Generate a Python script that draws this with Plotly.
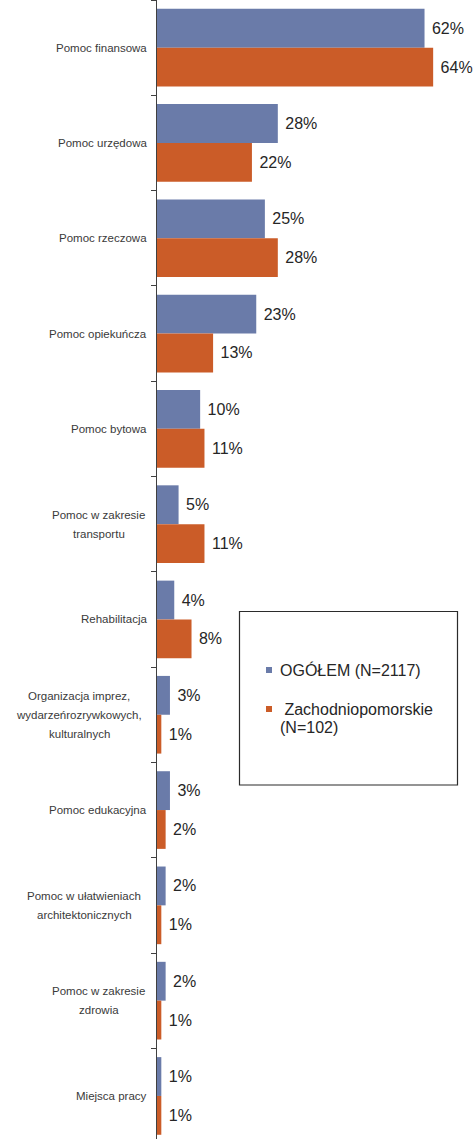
import plotly.graph_objects as go

# Categories (top to bottom) and survey shares in percent
categories = [
    "Pomoc finansowa",
    "Pomoc urzędowa",
    "Pomoc rzeczowa",
    "Pomoc opiekuńcza",
    "Pomoc bytowa",
    "Pomoc w zakresie<br>transportu",
    "Rehabilitacja",
    "Organizacja imprez,<br>wydarzeńrozrywkowych,<br>kulturalnych",
    "Pomoc edukacyjna",
    "Pomoc w ułatwieniach<br>architektonicznych",
    "Pomoc w zakresie<br>zdrowia",
    "Miejsca pracy",
]
ogolem = [62, 28, 25, 23, 10, 5, 4, 3, 3, 2, 2, 1]
zachodniopomorskie = [64, 22, 28, 13, 11, 11, 8, 1, 2, 1, 1, 1]

series_names = ["OGÓŁEM (N=2117)", "Zachodniopomorskie (N=102)"]
colors = ["#6A7BA9", "#CB5C28"]

W, H = 475, 1139
ML = 157
FONT = "Liberation Sans, Arial, sans-serif"

# horizontal centre of wrapped labels (px), single-line labels are right-aligned
label_centers = {5: 98.7, 7: 79.0, 9: 84.0, 10: 98.7}


def paper_x(px):
    return (px - ML) / (W - ML)


def paper_y(py):
    return 1 - py / H


fig = go.Figure()
for name, vals, col in zip(series_names, [ogolem, zachodniopomorskie], colors):
    fig.add_trace(go.Bar(
        y=categories,
        x=vals,
        orientation="h",
        name=name,
        marker=dict(color=col, line=dict(width=0)),
        text=[f"\u00a0{v}%" for v in vals],
        textposition="outside",
        textfont=dict(family=FONT, size=16, color="#262626"),
        constraintext="none",
        cliponaxis=False,
        hoverinfo="skip",
        showlegend=False,
    ))

annotations = []
for i, cat in enumerate(categories):
    lines = cat.split("<br>")
    n = len(lines)
    for j, line in enumerate(lines):
        if n == 1:
            xanchor, xshift = "right", -9
        else:
            xanchor, xshift = "center", label_centers[i] - ML
        annotations.append(dict(
            xref="paper", x=0, yref="y", y=cat,
            text=line, showarrow=False,
            xanchor=xanchor, yanchor="middle",
            xshift=xshift, yshift=((n - 1) / 2 - j) * 19,
            borderpad=0,
            font=dict(family=FONT, size=11.5, color="#3a3a3a"),
        ))

# legend box drawn by hand
shapes = [dict(
    type="rect", xref="paper", yref="paper",
    x0=paper_x(239.5), x1=paper_x(457.5), y0=paper_y(785), y1=paper_y(611.5),
    line=dict(color="#2b2b2b", width=1.2), fillcolor="rgba(0,0,0,0)",
)]
legend_rows = [
    (670, colors[0], ["OGÓŁEM (N=2117)"]),
    (709, colors[1], ["\u00a0Zachodniopomorskie", "(N=102)"]),
]
for py, col, texts in legend_rows:
    shapes.append(dict(
        type="rect", xref="paper", yref="paper",
        x0=paper_x(266), x1=paper_x(272), y0=paper_y(py + 3), y1=paper_y(py - 3),
        line=dict(width=0), fillcolor=col,
    ))
    for k, t in enumerate(texts):
        annotations.append(dict(
            xref="paper", yref="paper", x=paper_x(278.5), y=paper_y(py + k * 18.5),
            text=t, showarrow=False, xanchor="left", yanchor="middle", borderpad=0,
            font=dict(family=FONT, size=16, color="#262626"),
        ))

band = 95.3  # px per category
fig.update_layout(
    width=W, height=H,
    margin=dict(l=ML, r=0, t=0, b=0),
    paper_bgcolor="white", plot_bgcolor="white",
    barmode="group", bargap=0.185, bargroupgap=0,
    font=dict(family=FONT),
    xaxis=dict(range=[0, (W - ML) / 4.315], visible=False, fixedrange=True),
    yaxis=dict(
        type="category",
        categoryorder="array", categoryarray=categories,
        range=[-0.5 + H / band, -0.5],
        showticklabels=False,
        showline=True, linecolor="#404040", linewidth=1,
        ticks="outside", ticklen=5, tickcolor="#404040", tickwidth=1,
        tickson="boundaries",
        showgrid=False, zeroline=False, fixedrange=True,
    ),
    annotations=annotations,
    shapes=shapes,
    showlegend=False,
)

fig.write_html("out.html")
